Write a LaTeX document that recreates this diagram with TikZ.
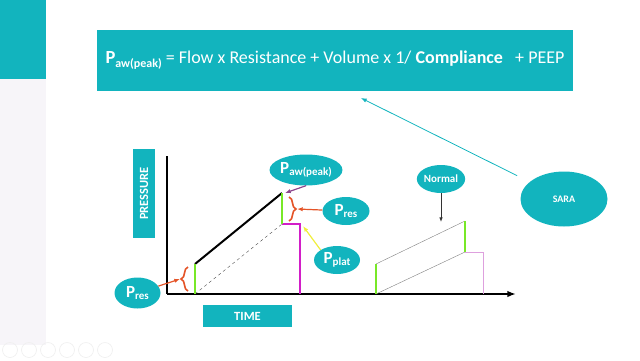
\documentclass[tikz,border=0pt]{standalone}
\usepackage{fontspec}
\setmainfont{Carlito}
\usetikzlibrary{arrows.meta,shapes.geometric,decorations.pathreplacing}
\definecolor{slideteal}{RGB}{18,180,190}
\definecolor{sidegray}{RGB}{247,245,249}
\definecolor{bracered}{RGB}{228,84,40}
\definecolor{limegreen}{RGB}{120,232,40}
\definecolor{plotmagenta}{RGB}{210,30,200}
\definecolor{plotyellow}{RGB}{240,238,60}
\definecolor{peakpurple}{RGB}{140,70,140}
\definecolor{softpink}{RGB}{222,160,222}
\newcommand{\pvar}[3]{{\fontsize{#2}{#2}\selectfont P}\raisebox{-0.45ex}{\fontsize{#3}{#3}\selectfont #1}}
\tikzset{
  bubble/.style={ellipse, fill=slideteal, text=white, font=\bfseries, inner sep=0pt},
  tealbox/.style={rectangle, fill=slideteal, text=white, font=\bfseries\fontsize{12.5}{14}\selectfont, inner sep=0pt},
  axis/.style={line width=2.2pt, draw=black},
  greenbar/.style={line width=2.6pt, draw=limegreen},
  pbrace/.style={decorate, decoration={brace, amplitude=7pt}, draw=bracered, line width=1.6pt},
  arrow/.style={-{Latex[length=2mm]}, line width=1.2pt}
}
\begin{document}
\begin{tikzpicture}[x=1pt, y=-1pt]
\useasboundingbox (0,0) rectangle (640,360);
% slide frame
\fill[sidegray] (0,79) rectangle (46,345);
\fill[slideteal] (0,0) rectangle (46,79);
\foreach \cx in {10,29,48,67,86,105}
  \draw[gray!12, line width=0.7pt] (\cx,350) circle (7.5);
% formula
\node[tealbox, minimum width=476pt, minimum height=61pt, font=\fontsize{18}{20}\selectfont] (formula) at (335,60)
  {\textbf{\pvar{aw(peak)}{18.5}{12}} = Flow x Resistance + Volume x 1/ \textbf{Compliance}\ \ \ + PEEP};
% axis labels
\node[tealbox, rotate=90, minimum width=89pt, minimum height=22pt] (pressure) at (144,193.5) {PRESSURE};
\node[tealbox, minimum width=89pt, minimum height=22pt] (time) at (247.5,316) {TIME};
% axes
\coordinate (origin) at (167,294);
\coordinate (ytop) at (167,156);
\coordinate (xend) at (516,294);
\draw[axis] (ytop) -- (origin);
\draw[axis, -{Latex[length=3mm]}] (origin) -- (xend);
% pressure curve
\coordinate (a0) at (195,294);
\coordinate (a1) at (195,264);
\coordinate (b1) at (282,193);
\coordinate (b0) at (282,224);
\coordinate (c0) at (300,224);
\coordinate (c1) at (300,294);
\draw[black!70, dashed, thin] (a0) -- (b0);
\draw[line width=2pt] (a1) -- (b1);
\draw[plotmagenta, line width=2pt] (b0) -- (c0) -- (c1);
\draw[greenbar] (a0) -- (a1);
\draw[greenbar] (b0) -- (b1);
% braces
\draw[pbrace] (188,291) -- (188,267);
\coordinate (lbtip) at (180,279);
\draw[pbrace] (289,197) -- (289,221);
\coordinate (rbtip) at (297,209);
% bubbles
\node[bubble, minimum width=46pt, minimum height=31pt] (presl) at (137.5,293) {\pvar{res}{17}{11}};
\node[bubble, minimum width=47pt, minimum height=28pt] (presr) at (346,211) {\pvar{res}{17}{11}};
\node[bubble, minimum width=64pt, minimum height=31pt] (peak) at (306,170) {\pvar{aw(peak)}{17}{11}};
\node[bubble, minimum width=46pt, minimum height=28pt] (plat) at (337,260) {\pvar{plat}{17}{11}};
\coordinate (peaktip) at (285,193);
\coordinate (plattip) at (303,226);
\draw[arrow, bracered] (presl) -- (lbtip);
\draw[arrow, bracered] (presr) -- (rbtip);
\draw[arrow, peakpurple] (peak.south) -- (peaktip);
\draw[arrow, plotyellow] (plat.north west) -- (plattip);
% normal curve
\coordinate (n0) at (376,294);
\coordinate (n1) at (376,264);
\coordinate (m1) at (465,221);
\coordinate (m0) at (465,252);
\coordinate (k0) at (483,252);
\coordinate (k1) at (483,294);
\draw[gray, thin] (n1) -- (m1);
\draw[gray, thin] (n0) -- (m0);
\draw[softpink, thin] (m0) -- (k0) -- (k1);
\draw[greenbar] (n0) -- (n1);
\draw[greenbar] (m0) -- (m1);
\node[bubble, minimum width=43pt, minimum height=28pt, font=\bfseries\fontsize{11}{12}\selectfont] (normal) at (441,179) {Normal};
\coordinate (normaltip) at (441,222);
\draw[-{Latex[length=1.6mm]}, line width=0.8pt, black!80] (normal) -- (normaltip);
% SARA
\node[bubble, minimum width=87pt, minimum height=55pt, font=\bfseries\fontsize{10}{12}\selectfont] (sara) at (564,199) {SARA};
\coordinate (formulatip) at (361,98);
\draw[-{Latex[length=2mm]}, slideteal, line width=0.8pt, shorten <=14pt] (sara) -- (formulatip);
\end{tikzpicture}
\end{document}
